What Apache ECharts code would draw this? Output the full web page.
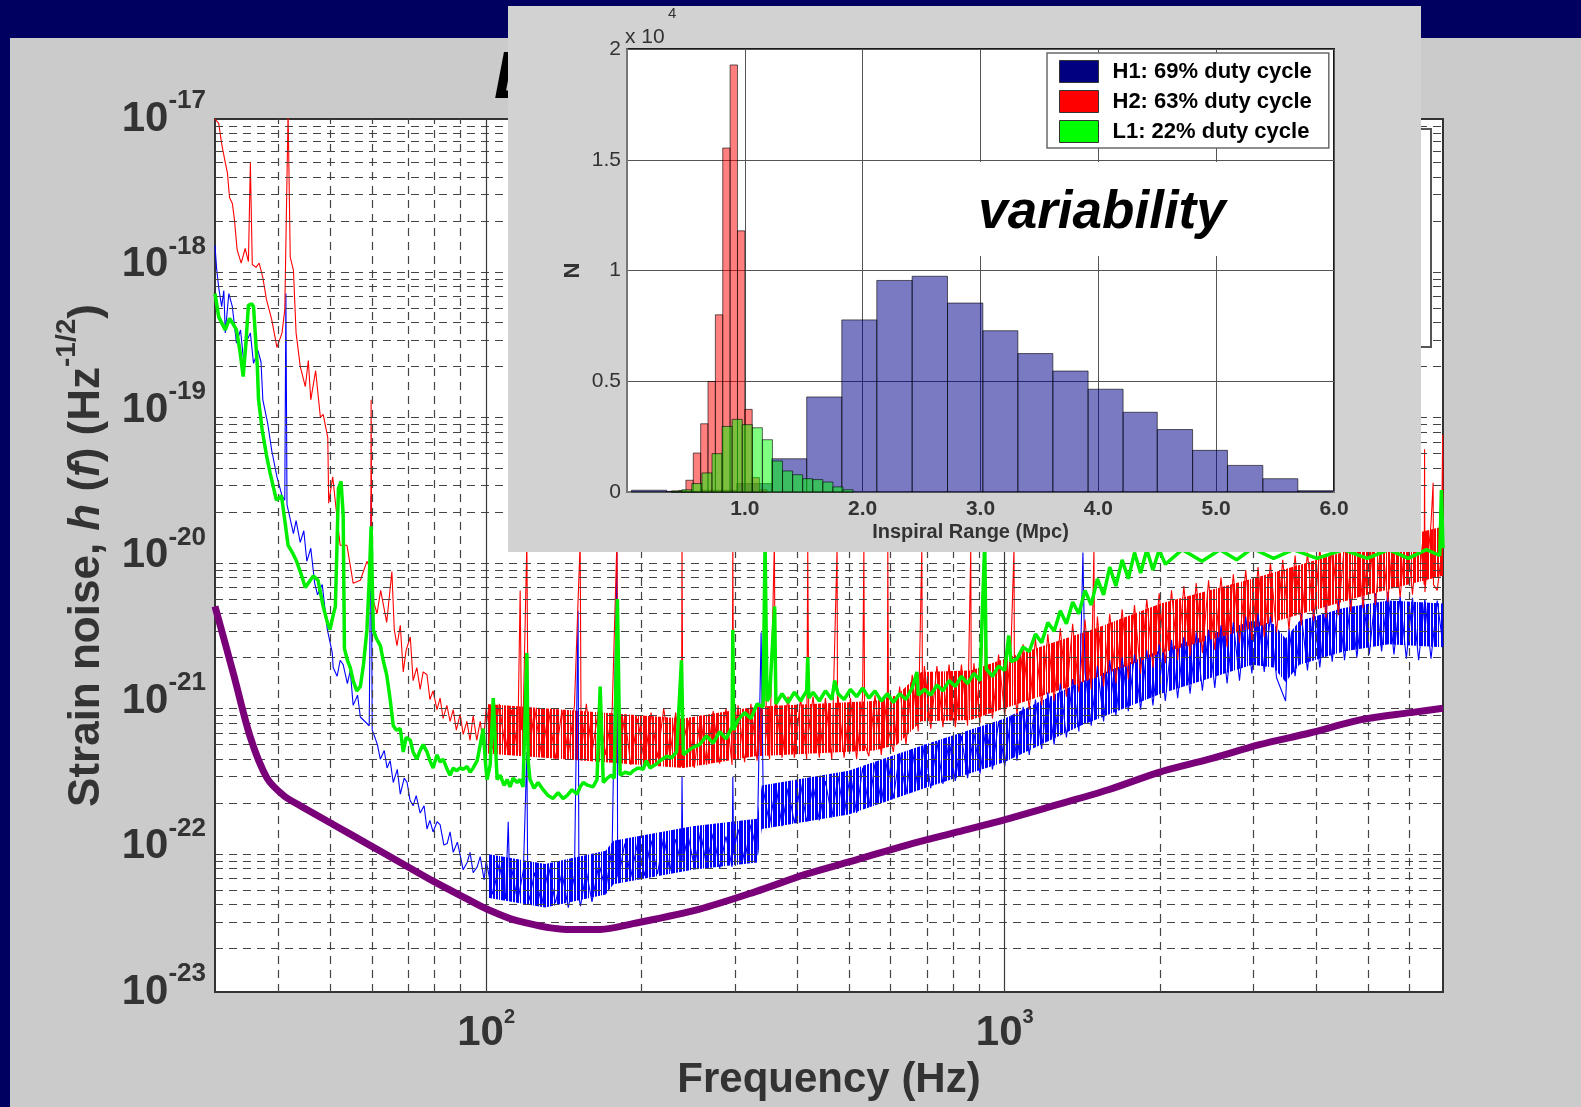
<!DOCTYPE html>
<html>
<head>
<meta charset="utf-8">
<script src="https://cdn.jsdelivr.net/npm/echarts@6/dist/echarts.min.js"></script>
<style>
html,body{margin:0;padding:0;background:#cbcbcb;}
#chart{width:1581px;height:1107px;}
</style>
</head>
<body>
<div id="chart"></div>
<script>
// ---- Strain noise spectra: [frequency (Hz), log10 of strain amplitude (Hz^-1/2)] ----
const h1Spectrum = [
[30,-17.87],[30.2,-18.02],[30.5,-18.16],[30.9,-18.29],[31.2,-18.18],[31.4,-18.47],[31.9,-18.2],[32.4,-18.29],
[33,-18.54],[33.6,-18.45],[34.1,-18.68],[34.6,-18.52],[35.1,-18.47],[35.6,-18.68],[36.3,-18.59],[36.8,-18.67],
[37.1,-18.93],[37.9,-19.09],[38.6,-19.28],[39.5,-19.46],[40.4,-19.59],[40.9,-19.62],[41.1,-18.2],[41.3,-19.65],
[42.5,-19.85],[43,-19.76],[43.8,-19.91],[44.5,-19.83],[45.1,-20.04],[45.9,-19.95],[46.7,-20.19],[47.3,-20.27],
[48.3,-20.2],[49.4,-20.51],[50.5,-20.67],[50.7,-20.77],[51.6,-20.83],[52.3,-20.72],[53,-20.75],[54,-20.88],
[54.7,-20.79],[55.4,-21.03],[56.5,-20.96],[57.2,-21.11],[59.5,-21.17],[60,-19.59],[60.3,-21.2],[60.6,-21.22],
[61.7,-21.3],[62.5,-21.4],[63.6,-21.34],[64.4,-21.46],[65.3,-21.41],[66.2,-21.56],[67.4,-21.47],[68.3,-21.64],
[69.5,-21.53],[70.4,-21.56],[71.3,-21.68],[72.3,-21.72],[73.3,-21.65],[74.6,-21.77],[75.9,-21.72],[76.9,-21.88],
[77.9,-21.82],[79,-21.9],[80.4,-21.83],[81.5,-21.85],[82.9,-21.99],[84.1,-21.98],[85.2,-21.9],[86.4,-22.04],
[88,-21.97],[89.1,-22.06],[90.3,-22.16],[91.9,-22.11],[93.1,-22.04],[94.4,-22.18],[96.1,-22.14],[97.4,-22.07],
[99.1,-22.23],[100,-22.1],[103,-22.33],[106,-22.12],[109,-22.36],[110.3,-21.83],[111,-22.25],[112,-22.15],
[115,-22.38],[118,-22.16],[119.8,-21.35],[120.3,-22.3],[121,-22.37],[124,-22.18],[128,-22.4],[132,-22.14],
[136,-22.39],[140,-22.18],[144,-22.42],[148,-22.2],[150.4,-20.38],[151,-22.35],[152,-22.41],[156,-22.17],
[160,-22.38],[165,-22.12],[170,-22.3],[175,-22],[178.7,-19.98],[179.3,-22.2],[180,-22.22],[185,-21.98],
[190,-22.21],[196,-21.97],[202,-22.2],[208,-21.96],[214,-22.19],[220,-21.93],[226,-22.17],[232,-21.95],
[238,-22.14],[238.6,-21.52],[239.5,-22.1],[245,-21.92],[252,-22.14],[259,-21.9],[266,-22.13],[274,-21.91],
[282,-22.15],[290,-21.93],[298,-22.14],[299,-21.52],[300,-22.05],[306,-21.88],[315,-22.1],[324,-21.85],
[333,-22.06],[339,-20.53],[342,-21.6],[352,-21.85],[362,-21.58],[372,-21.86],[382,-21.6],[393,-21.84],
[404,-21.57],[415,-21.83],[427,-21.58],[439,-21.82],[451,-21.55],[464,-21.8],[477,-21.52],[490,-21.78],
[504,-21.5],[518,-21.77],[532,-21.46],[547,-21.73],[562,-21.43],[578,-21.7],[594,-21.4],[610,-21.67],
[627,-21.36],[645,-21.64],[663,-21.33],[681,-21.61],[700,-21.3],[720,-21.6],[740,-21.28],[760,-21.57],
[781,-21.27],[803,-21.55],[825,-21.24],[848,-21.53],[872,-21.22],[896,-21.5],[921,-21.17],[947,-21.47],
[973,-21.14],[1000,-21.45],[1028,-21.1],[1056,-21.41],[1085,-21.04],[1115,-21.37],[1146,-20.99],[1178,-21.33],
[1211,-20.94],[1245,-21.3],[1280,-20.88],[1315,-21.25],[1352,-20.85],[1390,-21.21],[1415,-19.98],[1428,-20.8],
[1468,-21.17],[1509,-20.76],[1551,-21.14],[1594,-20.72],[1638,-21.1],[1684,-20.7],[1731,-21.07],[1779,-20.68],
[1828,-21.06],[1879,-20.65],[1931,-21.03],[1985,-20.61],[2040,-21],[2097,-20.58],[2155,-20.98],[2215,-20.56],
[2277,-20.95],[2340,-20.53],[2405,-20.93],[2472,-20.51],[2541,-20.91],[2612,-20.48],[2684,-20.88],[2759,-20.46],
[2836,-20.86],[2915,-20.42],[2996,-20.81],[3079,-20.4],[3165,-20.8],[3253,-20.42],[3343,-20.84],[3436,-20.95],
[3480,-21],[3532,-20.5],[3630,-20.83],[3731,-20.4],[3835,-20.79],[3942,-20.37],[4051,-20.77],[4164,-20.34],
[4280,-20.73],[4399,-20.31],[4521,-20.72],[4647,-20.3],[4776,-20.7],[4909,-20.28],[5046,-20.68],[5186,-20.26],
[5330,-20.66],[5478,-20.25],[5630,-20.68],[5787,-20.28],[5948,-20.71],[6113,-20.29],[6283,-20.72],[6458,-20.3],
[6637,-20.71],[6822,-20.31],[7000,-20.62]
];

const h2Spectrum = [
[30,-17],[30.5,-17.03],[30.9,-17.17],[31.4,-17.3],[31.7,-17.37],[32,-17.54],[32.4,-17.58],[32.7,-17.69],
[33.1,-17.9],[33.7,-17.99],[34.3,-17.89],[34.8,-17.98],[35.1,-17.3],[35.4,-18],[36,-18.02],[36.5,-17.99],
[37.1,-18.09],[37.7,-18.24],[38.6,-18.38],[39.5,-18.57],[40.4,-18.47],[40.9,-18.31],[41.5,-16.95],[41.9,-17.95],
[42.5,-18.04],[43,-18.47],[43.8,-18.7],[44.8,-18.84],[45.4,-18.66],[45.9,-18.93],[46.9,-18.73],[47.9,-19.05],
[48.5,-19.03],[49.5,-19.19],[49.7,-19.64],[50.6,-19.46],[51.5,-19.72],[52.3,-19.93],[53.9,-19.93],[55.4,-20.19],
[57.2,-20.17],[58.9,-20.04],[59.9,-20.1],[60,-18.93],[60.2,-20.2],[60.6,-20.31],[61.6,-20.4],[62.6,-20.24],
[64.3,-20.46],[65.8,-20.11],[66.5,-20.51],[67.3,-20.62],[68.3,-20.48],[69.2,-20.8],[70.1,-20.65],[71.4,-20.56],
[72.3,-20.86],[73.5,-20.77],[74.6,-20.92],[75.6,-20.8],[76.9,-20.82],[77.9,-20.99],[79,-20.93],[80.4,-21.06],
[81.5,-20.98],[82.6,-21.12],[84,-21.03],[85.2,-21.14],[86.4,-21.06],[87.6,-21.2],[89.1,-21.09],[90.3,-21.23],
[91.8,-21.14],[93.1,-21.27],[94.4,-21.1],[95.9,-21.27],[97.4,-21.14],[98.7,-21.3],[100,-21.05],[103,-21.33],
[106,-21.02],[109,-21.34],[112,-21.06],[115,-21.35],[116.3,-20.24],[117,-21.2],[118,-21.04],[119.8,-19.9],
[120.5,-21.25],[121,-21.36],[124,-21.05],[128,-21.38],[132,-21.07],[136,-21.4],[140,-21.06],[144,-21.37],
[148,-21.03],[151.8,-19.9],[152.5,-21.36],[156,-21.02],[160,-21.35],[165,-21.04],[170,-21.37],[175,-21.06],
[178.7,-19.9],[180,-21.41],[185,-21.1],[190,-21.44],[196,-21.12],[202,-21.42],[208,-21.08],[214,-21.39],
[220,-21.05],[226,-21.38],[232,-21.08],[238,-21.45],[238.6,-19.9],[239.5,-21.3],[245,-21.13],[252,-21.46],
[259,-21.1],[266,-21.44],[274,-21.07],[282,-21.43],[290,-21.05],[298,-21.44],[299,-19.9],[300,-21.3],
[306,-21.03],[315,-21.42],[324,-21.02],[333,-21.41],[342,-21],[345,-19.9],[347,-21.2],[352,-21.4],
[359.6,-19.9],[361,-21.1],[362,-20.98],[372,-21.39],[382,-20.97],[393,-21.39],[404,-20.98],[415,-21.4],
[417,-19.95],[419,-21.2],[427,-20.97],[439,-21.39],[451,-20.98],[464,-21.4],[475,-19.95],[476,-21.2],
[477,-20.97],[490,-21.39],[504,-20.98],[518,-21.4],[532,-20.97],[535,-19.95],[537,-21.3],[547,-21.38],
[562,-20.96],[578,-21.37],[594,-20.94],[595,-19.95],[597,-21.2],[610,-21.35],[627,-20.9],[645,-21.3],
[663,-20.82],[681,-21.21],[692,-19.95],[694,-21],[700,-20.76],[720,-21.19],[740,-20.76],[760,-21.18],
[781,-20.75],[803,-21.18],[825,-20.75],[848,-21.17],[860,-19.95],[862,-21],[872,-20.74],[896,-21.15],
[915,-19.95],[917,-21],[921,-20.71],[947,-21.12],[973,-20.68],[1000,-21.1],[1028,-20.64],[1042,-19.95],
[1044,-20.9],[1056,-21.09],[1085,-20.61],[1115,-21.06],[1146,-20.57],[1178,-21.03],[1211,-20.54],[1245,-21],
[1280,-20.5],[1315,-20.97],[1352,-20.47],[1390,-20.94],[1428,-20.44],[1468,-20.92],[1486,-19.95],[1490,-20.8],
[1509,-20.42],[1551,-20.9],[1594,-20.4],[1638,-20.88],[1684,-20.37],[1731,-20.85],[1779,-20.34],[1828,-20.81],
[1879,-20.3],[1931,-20.77],[1985,-20.26],[2040,-20.74],[2097,-20.24],[2155,-20.72],[2215,-20.21],[2277,-20.69],
[2340,-20.19],[2405,-20.67],[2472,-20.17],[2541,-20.65],[2612,-20.15],[2684,-20.63],[2759,-20.13],[2836,-20.6],
[2915,-20.1],[2996,-20.58],[3079,-20.08],[3165,-20.56],[3253,-20.05],[3343,-20.53],[3436,-20.03],[3532,-20.51],
[3630,-20],[3731,-20.48],[3835,-19.98],[3942,-20.45],[4051,-19.95],[4164,-20.43],[4280,-19.93],[4399,-20.41],
[4521,-19.91],[4647,-20.39],[4776,-19.88],[4909,-20.36],[5046,-19.86],[5186,-20.34],[5330,-19.84],[5478,-20.32],
[5630,-19.81],[5787,-20.29],[5948,-19.79],[6113,-20.27],[6283,-19.77],[6440,-20.2],[6450,-19.27],[6460,-20.25],
[6637,-19.78],[6700,-19.5],[6710,-20.2],[6822,-20.24],[6950,-20],[6990,-19.17],[7000,-19.9]
];

const l1Spectrum = [
[30,-18.2],[30.5,-18.36],[31.1,-18.42],[31.4,-18.45],[32,-18.37],[32.4,-18.4],[33,-18.45],[33.5,-18.59],
[34,-18.77],[34.4,-18.55],[34.8,-18.28],[35.3,-18.27],[35.6,-18.29],[36.2,-18.7],[36.4,-18.93],[37,-19.14],
[37.7,-19.31],[38.3,-19.43],[39.4,-19.62],[40.3,-19.59],[40.9,-19.76],[41.5,-19.93],[42.3,-19.98],[43.1,-20.04],
[44,-20.13],[44.8,-20.22],[45.6,-20.18],[46.4,-20.14],[47.4,-20.17],[48.5,-20.35],[49.4,-20.46],[50,-20.51],
[50.7,-20.41],[51.2,-20.35],[51.6,-19.89],[51.9,-19.54],[52.5,-19.49],[53,-19.72],[53.3,-20.64],[54,-20.72],
[54.7,-20.77],[55.4,-20.86],[56.3,-20.93],[57.2,-20.9],[58,-20.75],[58.9,-20.51],[59.5,-20.17],[60,-19.8],
[60.3,-20.17],[60.6,-20.51],[61.4,-20.57],[62.5,-20.62],[63.3,-20.72],[64.3,-20.82],[65.3,-20.99],[66.2,-21.17],
[67.1,-21.2],[68.3,-21.19],[69.2,-21.35],[70.1,-21.25],[71.4,-21.27],[72.3,-21.35],[73.5,-21.4],[74.6,-21.34],
[75.6,-21.3],[76.9,-21.35],[77.9,-21.41],[79,-21.46],[80.4,-21.37],[81.5,-21.42],[82.6,-21.4],[84.1,-21.47],
[85.2,-21.51],[86.4,-21.46],[87.6,-21.48],[89.1,-21.46],[90.3,-21.47],[91.9,-21.45],[93.1,-21.49],[94.4,-21.46],
[96.1,-21.41],[97.4,-21.3],[98.7,-21.19],[99.6,-21.41],[100.4,-21.54],[101.8,-21.44],[103.2,-20.98],[104.1,-21.27],
[105,-21.54],[106.4,-21.51],[108.3,-21.58],[109.8,-21.54],[111.2,-21.59],[112.7,-21.53],[114.7,-21.56],[116.3,-21.54],
[117.8,-21.59],[119.8,-20.67],[120.5,-21.41],[121.5,-21.54],[123.7,-21.6],[125.9,-21.56],[128.8,-21.61],[131.7,-21.65],
[134.6,-21.67],[137.6,-21.63],[140.7,-21.67],[143.2,-21.65],[146.4,-21.61],[149.7,-21.64],[151.8,-21.59],[153.9,-21.56],
[157.2,-21.58],[160.7,-21.59],[163.6,-21.54],[165.9,-20.9],[168.2,-21.56],[171.3,-21.53],[174.2,-21.51],[176.6,-21.53],
[179.1,-20.3],[181.3,-21.51],[185.3,-21.49],[189.6,-21.5],[192.1,-21.48],[196.3,-21.46],[200.8,-21.47],[203.6,-21.41],
[207,-21.46],[213.6,-21.43],[216.3,-21.41],[223,-21.38],[228,-21.39],[233,-21.35],[238,-20.72],[240,-21.37],
[243.5,-21.35],[250,-21.32],[258,-21.3],[266,-21.24],[274,-21.29],[282,-21.21],[290,-21.26],[298,-21.18],
[299,-20.51],[300,-21.2],[306,-21.13],[315,-21.08],[324,-21.12],[333,-21.02],[342,-21.04],[345,-19.9],
[348,-21],[352,-20.97],[360,-20.35],[362,-21.02],[372,-20.95],[382,-21.01],[393,-20.94],[404,-21],
[415,-20.93],[417,-20.7],[419,-20.98],[427,-20.94],[439,-21],[451,-20.93],[464,-20.99],[470,-20.86],
[477,-20.95],[490,-20.99],[504,-20.92],[518,-20.97],[532,-20.91],[547,-20.98],[562,-20.93],[578,-21],
[594,-20.95],[610,-21.01],[627,-20.95],[645,-20.99],[663,-20.91],[677,-20.8],[681,-20.96],[700,-20.92],
[720,-20.96],[740,-20.89],[760,-20.93],[781,-20.86],[803,-20.9],[825,-20.83],[848,-20.88],[872,-20.81],
[896,-20.86],[915,-19.9],[921,-20.78],[947,-20.83],[973,-20.76],[1000,-20.79],[1018,-20.55],[1028,-20.73],
[1056,-20.71],[1085,-20.63],[1115,-20.66],[1146,-20.54],[1178,-20.6],[1211,-20.46],[1245,-20.52],[1280,-20.38],
[1315,-20.47],[1352,-20.32],[1390,-20.4],[1428,-20.24],[1468,-20.34],[1509,-20.16],[1551,-20.27],[1594,-20.08],
[1638,-20.21],[1684,-20.03],[1731,-20.16],[1779,-19.98],[1828,-20.12],[1879,-19.96],[1931,-20.1],[1985,-19.96],
[2040,-20.06],[2200,-19.96],[2400,-20.04],[2600,-19.96],[2800,-20.03],[3000,-19.95],[3300,-20.02],[3600,-19.96],
[4000,-20.02],[4500,-19.96],[5000,-20.02],[5500,-19.96],[6000,-20.02],[6500,-19.96],[6900,-20],[6950,-19.55],
[7000,-19.95]
];

// design sensitivity curve
const designSpectrum = [
[30,-20.35],[32.6,-20.82],[35.1,-21.25],[37.8,-21.53],[40.7,-21.65],[43.8,-21.72],[50.8,-21.85],[58.9,-21.98],
[68.3,-22.11],[79.2,-22.24],[91.8,-22.36],[100.3,-22.43],[114.6,-22.51],[143,-22.57],[166,-22.57],[192,-22.53],
[258,-22.43],[331,-22.31],[414,-22.19],[519,-22.09],[648,-21.99],[811,-21.9],[1014,-21.81],[1268,-21.71],
[1585,-21.61],[1983,-21.49],[2478,-21.4],[3099,-21.3],[3874,-21.22],[4845,-21.13],[6063,-21.08],[7000,-21.05]
];

// spread of the dense noise floor (log10 strain): frequency, lower and upper edge
const h1BandFreq = [100,130,170,176,250,333,340,500,700,1000,1400,2000,3000,3300,3480,3700,4500,5500,7000];
const h1BandLow  = [-22.35,-22.42,-22.33,-22.26,-22.16,-22.11,-21.88,-21.78,-21.6,-21.42,-21.17,-20.95,-20.75,-20.77,-20.87,-20.75,-20.66,-20.61,-20.63];
const h1BandHigh = [-22.05,-22.12,-22.03,-21.96,-21.86,-21.81,-21.58,-21.48,-21.3,-21.12,-20.87,-20.65,-20.45,-20.47,-20.57,-20.45,-20.36,-20.31,-20.33];
const h2BandFreq = [100,200,240,330,560,620,690,860,1000,1500,2000,3000,4000,5000,7000];
const h2BandLow  = [-21.36,-21.44,-21.46,-21.38,-21.34,-21.3,-21.14,-21.13,-21.05,-20.84,-20.67,-20.5,-20.37,-20.27,-20.14];
const h2BandHigh = [-21.02,-21.1,-21.12,-21.04,-21,-20.96,-20.8,-20.79,-20.71,-20.5,-20.33,-20.16,-20.03,-19.93,-19.8];

// ---- Inspiral range histograms (counts in units of 10^4) ----
const h1Edges  = [0.038,0.336,0.633,0.931,1.228,1.525,1.823,2.12,2.42,2.72,3.02,3.317,3.614,3.913,4.21,4.5,4.8,5.096,5.396,5.693,5.99];
const h1Counts = [0.008,0.003,0.008,0.038,0.15,0.429,0.777,0.955,0.974,0.853,0.728,0.625,0.546,0.464,0.36,0.282,0.188,0.12,0.06,0.006];
const h2Edges  = [0.375,0.4375,0.5,0.5625,0.625,0.6875,0.75,0.8125,0.875,0.9375,1.0,1.0625,1.125,1.1875];
const h2Counts = [0.004,0.006,0.053,0.176,0.308,0.499,0.8,1.553,1.928,1.179,0.373,0.065,0.01];
const l1Edges  = [0.38,0.465,0.55,0.636,0.7215,0.807,0.8925,0.978,1.0635,1.149,1.2345,1.32,1.4055,1.491,1.5765,1.662,1.7475,1.833,1.9185];
const l1Counts = [0.004,0.01,0.038,0.086,0.173,0.296,0.328,0.304,0.29,0.236,0.14,0.095,0.078,0.06,0.056,0.045,0.023,0.01];

const histNames = ['H1: 69% duty cycle','H2: 63% duty cycle','L1: 22% duty cycle'];
const rangeTicks = [0,1,2,3,4,5,6];

// ---- frequency / strain axes (decades) ----
const freqMin = 30, freqMax = 7000;
const freqDecades = [2, 3];
const minorFreqLines = [40,50,60,70,80,90,200,300,400,500,600,700,800,900,2000,3000,4000,5000,6000];
const minorStrainLines = [];
for (let n = -23; n < -17; n++) for (let k = 2; k <= 9; k++) minorStrainLines.push(n + Math.log10(k));

const FONT = '"Liberation Sans", Arial, Helvetica, sans-serif';
const INK = '#333';
const lg = Math.log10;

// series are plotted on log10(frequency) vs log10(strain)
const toLogLog = s => s.map(([f, e]) => [lg(f), e]);

function decadeLabel(v) {
  const r = Math.round(v);
  if (Math.abs(v - r) > 1e-6) return '';
  return '{b|10}{s|' + r + '}';
}

// fine vertical hatching used to shade the dense part of a noise trace
function hatch(color, mask) {
  const c = document.createElement('canvas');
  c.width = mask.length; c.height = 4;
  const g = c.getContext('2d');
  g.fillStyle = color;
  for (let i = 0; i < mask.length; i++) if (mask[i] === '1') g.fillRect(i, 0, 1, 4);
  return { image: c, repeat: 'repeat' };
}

function bandSeries(freqs, lo, hi, fill) {
  return {
    type: 'custom', xAxisIndex: 0, yAxisIndex: 0, z: 2, silent: true,
    data: [[lg(freqs[0]), lo[0]]],
    renderItem(params, api) {
      const pts = [];
      for (let i = 0; i < freqs.length; i++) pts.push(api.coord([lg(freqs[i]), hi[i]]));
      for (let i = freqs.length - 1; i >= 0; i--) pts.push(api.coord([lg(freqs[i]), lo[i]]));
      return { type: 'polygon', shape: { points: pts }, style: { fill: fill } };
    }
  };
}

function traceSeries(name, data, color, width, z) {
  return {
    type: 'line', name, xAxisIndex: 0, yAxisIndex: 0, z, data: toLogLog(data),
    showSymbol: false, symbol: 'none', clip: true, silent: true,
    lineStyle: { color, width }, itemStyle: { color }
  };
}

function histSeries(name, edges, counts, fill) {
  const data = counts.map((c, i) => [edges[i], edges[i + 1], c]);
  return {
    type: 'custom', name, xAxisIndex: 1, yAxisIndex: 1, z: 20, silent: true,
    itemStyle: { color: fill },
    encode: { x: [0, 1], y: 2 },
    data,
    renderItem(params, api) {
      const p0 = api.coord([api.value(0), api.value(2)]);
      const p1 = api.coord([api.value(1), 0]);
      return {
        type: 'rect',
        shape: { x: p0[0], y: p0[1], width: p1[0] - p0[0], height: p1[1] - p0[1] },
        style: { fill: fill, stroke: 'rgba(0,0,0,0.6)', lineWidth: 1 }
      };
    }
  };
}

const chart = echarts.init(document.getElementById('chart'), null, { renderer: 'canvas' });

const option = {
  backgroundColor: '#cbcbcb',
  animation: false,
  title: {
    text: 'LIGO S5 Sensitivity', left: 489, top: 42, z: 6,
    textStyle: { fontFamily: FONT, fontSize: 66, fontWeight: 'bold', fontStyle: 'italic', color: '#000' }
  },
  legend: {
    orient: 'vertical', left: 1047, top: 53, z: 25, selectedMode: false,
    padding: [7, 17, 5, 12], itemGap: 7, itemWidth: 39, itemHeight: 22, icon: 'rect',
    backgroundColor: '#fff', borderColor: '#6a6a6a', borderWidth: 1.5,
    textStyle: { fontFamily: FONT, fontSize: 22, fontWeight: 'bold', color: '#000', padding: [0, 0, 0, 9] },
    data: [
      { name: histNames[0], itemStyle: { color: '#000080', borderColor: '#333', borderWidth: 1 } },
      { name: histNames[1], itemStyle: { color: '#ff0000', borderColor: '#333', borderWidth: 1 } },
      { name: histNames[2], itemStyle: { color: '#00ff00', borderColor: '#333', borderWidth: 1 } }
    ]
  },
  grid: [
    { left: 215, top: 119, width: 1228, height: 873, show: true, backgroundColor: '#fff', borderColor: '#333', borderWidth: 2, z: 1 },
    { left: 627, top: 49, width: 707, height: 443, show: true, backgroundColor: '#fff', borderColor: '#1a1a1a', borderWidth: 2, z: 12 }
  ],
  xAxis: [
    {
      type: 'value', min: lg(freqMin), max: lg(freqMax), splitNumber: 2, gridIndex: 0,
      axisLine: { show: false }, axisTick: { show: false }, splitLine: { show: false },
      axisLabel: {
        customValues: freqDecades, formatter: decadeLabel, margin: 15,
        rich: {
          b: { fontFamily: FONT, fontSize: 42, fontWeight: 'bold', color: INK, lineHeight: 47, verticalAlign: 'bottom' },
          s: { fontFamily: FONT, fontSize: 20, fontWeight: 'bold', color: INK, lineHeight: 20, verticalAlign: 'top' }
        }
      },
      name: 'Frequency (Hz)', nameLocation: 'middle', nameGap: 67,
      nameTextStyle: { fontFamily: FONT, fontSize: 42, fontWeight: 'bold', color: INK }
    },
    {
      type: 'value', gridIndex: 1, min: 0, max: 6, interval: 1, z: 15,
      axisLine: { show: true, lineStyle: { color: '#777', width: 2 } }, axisTick: { show: false },
      splitLine: { show: true, lineStyle: { color: '#555', width: 1 } },
      axisLabel: {
        fontFamily: FONT, fontSize: 21, fontWeight: 'bold', color: INK, margin: 7,
        formatter: v => (rangeTicks.indexOf(v) > 0 ? v.toFixed(1) : '')
      },
      name: 'Inspiral Range (Mpc)', nameLocation: 'middle', nameGap: 30,
      nameTextStyle: { fontFamily: FONT, fontSize: 20, fontWeight: 'bold', color: INK, padding: [0, 20, 0, 0] }
    }
  ],
  yAxis: [
    {
      type: 'value', min: -23, max: -17, interval: 1, gridIndex: 0,
      axisLine: { show: false }, axisTick: { show: false },
      splitLine: { show: true, lineStyle: { color: '#3a3a3a', width: 1.2 } },
      axisLabel: {
        formatter: decadeLabel, margin: 9, padding: [0, 0, 10, 0],
        rich: {
          b: { fontFamily: FONT, fontSize: 42, fontWeight: 'bold', color: INK, lineHeight: 52, verticalAlign: 'bottom' },
          s: { fontFamily: FONT, fontSize: 26, fontWeight: 'bold', color: INK, lineHeight: 26, verticalAlign: 'top' }
        }
      },
      name: '{n|Strain noise, }{i|h}{n| (}{i|f}{n|) (Hz}{s|-1/2}{n|)}',
      nameLocation: 'middle', nameGap: 106,
      nameTextStyle: {
        rich: {
          n: { fontFamily: FONT, fontSize: 44, fontWeight: 'bold', color: INK, lineHeight: 56, verticalAlign: 'bottom' },
          i: { fontFamily: FONT, fontSize: 44, fontWeight: 'bold', fontStyle: 'italic', color: INK, lineHeight: 56, verticalAlign: 'bottom' },
          s: { fontFamily: FONT, fontSize: 28, fontWeight: 'bold', color: INK, lineHeight: 28, verticalAlign: 'top' }
        }
      }
    },
    {
      type: 'value', gridIndex: 1, min: 0, max: 2, interval: 0.5, z: 15,
      axisLine: { show: true, lineStyle: { color: '#777', width: 2 } }, axisTick: { show: false },
      splitLine: { show: true, lineStyle: { color: '#555', width: 1 } },
      axisLabel: { fontFamily: FONT, fontSize: 21, color: INK, margin: 6 },
      name: 'N', nameLocation: 'middle', nameGap: 43,
      nameTextStyle: { fontFamily: FONT, fontSize: 22, fontWeight: 'bold', color: INK }
    }
  ],
  graphic: [
    { type: 'rect', z: 0, shape: { x: 0, y: 0, width: 1581, height: 38 }, style: { fill: '#000060' }, silent: true },
    { type: 'rect', z: 0, shape: { x: 0, y: 0, width: 10, height: 1107 }, style: { fill: '#000060' }, silent: true },
    { type: 'rect', z: 9, shape: { x: 1150, y: 129, width: 281, height: 218 }, style: { fill: '#fff', stroke: '#555', lineWidth: 2 }, silent: true },
    { type: 'rect', z: 10, shape: { x: 508, y: 6, width: 913, height: 546 }, style: { fill: '#d2d2d2' }, silent: true },
    { type: 'rect', z: 17, shape: { x: 950, y: 162, width: 295, height: 94 }, style: { fill: '#fff' }, silent: true },
    { type: 'text', z: 18, x: 1102, y: 213, silent: true,
      style: { text: 'variability', fontFamily: FONT, fontSize: 53, fontWeight: 'bold', fontStyle: 'italic', fill: '#000', align: 'center', verticalAlign: 'middle' } },
    { type: 'text', z: 18, x: 625, y: 27, silent: true,
      style: { text: 'x 10', fontFamily: FONT, fontSize: 21, fill: INK, align: 'left', verticalAlign: 'top' } },
    { type: 'text', z: 18, x: 668, y: 6, silent: true,
      style: { text: '4', fontFamily: FONT, fontSize: 15, fill: INK, align: 'left', verticalAlign: 'top' } }
  ],
  series: [
    {
      type: 'line', name: 'minor grid', xAxisIndex: 0, yAxisIndex: 0, z: 1.5, silent: true,
      data: [[lg(freqMin), -20]], showSymbol: false, lineStyle: { opacity: 0 },
      markLine: {
        silent: true, symbol: ['none', 'none'], label: { show: false }, animation: false,
        lineStyle: { type: [8, 6], color: '#444', width: 1.2 },
        emphasis: { disabled: true },
        data: minorFreqLines.map(v => ({ xAxis: lg(v) })).concat(minorStrainLines.map(v => ({ yAxis: v })))
      }
    },
    {
      type: 'line', name: 'major grid', xAxisIndex: 0, yAxisIndex: 0, z: 1.6, silent: true,
      data: [[lg(freqMin), -20]], showSymbol: false, lineStyle: { opacity: 0 },
      markLine: {
        silent: true, symbol: ['none', 'none'], label: { show: false }, animation: false,
        lineStyle: { type: 'solid', color: '#3a3a3a', width: 1.2 },
        emphasis: { disabled: true },
        data: freqDecades.map(v => ({ xAxis: v }))
      }
    },
    bandSeries(h1BandFreq, h1BandLow, h1BandHigh, hatch('#0000ff', '1101101110100111011011010111101101')),
    bandSeries(h2BandFreq, h2BandLow, h2BandHigh, hatch('#ff0000', '1011101101101110010111011010110111')),
    traceSeries('H1', h1Spectrum, '#0000ff', 1.1, 3),
    traceSeries('H2', h2Spectrum, '#ff0000', 1.1, 4),
    traceSeries('L1', l1Spectrum, '#00ee00', 3.5, 5),
    Object.assign(traceSeries('Design', designSpectrum, '#7a007a', 7, 6), { smooth: 0.3 }),
    histSeries(histNames[0], h1Edges, h1Counts, 'rgba(0,0,140,0.52)'),
    histSeries(histNames[1], h2Edges, h2Counts, 'rgba(255,0,0,0.5)'),
    histSeries(histNames[2], l1Edges, l1Counts, 'rgba(0,255,0,0.5)')
  ]
};

chart.setOption(option);
</script>
</body>
</html>
